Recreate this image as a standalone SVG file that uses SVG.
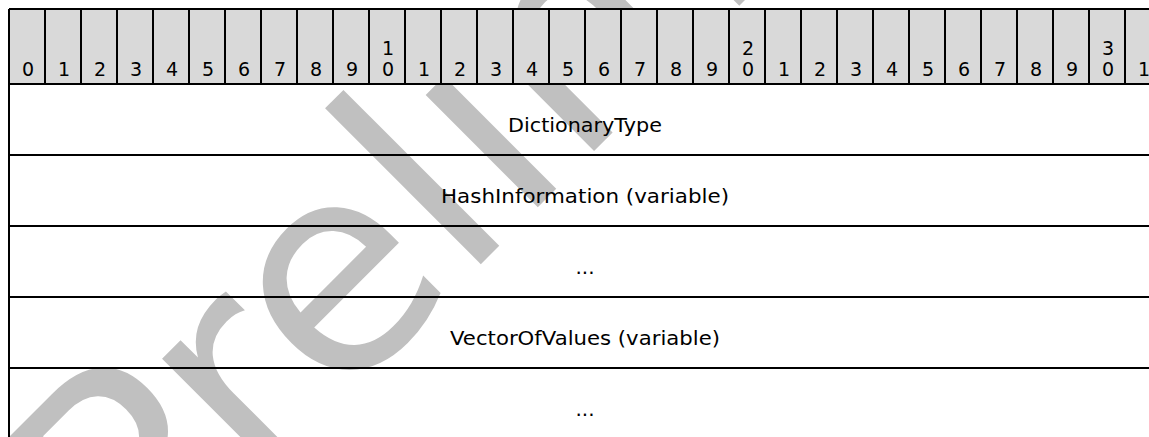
<svg xmlns="http://www.w3.org/2000/svg" width="1149" height="437" viewBox="0 0 1149 437">
<style>
.t{font-family:"DejaVu Sans","Verdana",sans-serif;font-size:20px;fill:#000;text-anchor:middle}
.d{font-family:"DejaVu Sans","Verdana",sans-serif;font-size:19px;fill:#000;text-anchor:middle}
.ln{stroke:#000;stroke-width:2;fill:none}
.wm{font-family:"DejaVu Sans",sans-serif;font-size:290px;fill:#c0c0c0}
</style>
<rect x="0" y="0" width="1149" height="437" fill="#fff"/>
<text class="wm" x="135.5" y="609.5" transform="rotate(-45 135.5 609.5)">Preliminary</text>
<g id="header">
<rect x="9" y="9" width="1152" height="75" fill="#d9d9d9"/>
<path class="ln" d="M9 9H1149M9 84H1149M9 9V437M45 9V84M81 9V84M117 9V84M153 9V84M189 9V84M225 9V84M261 9V84M297 9V84M333 9V84M369 9V84M405 9V84M441 9V84M477 9V84M513 9V84M549 9V84M585 9V84M621 9V84M657 9V84M693 9V84M729 9V84M765 9V84M801 9V84M837 9V84M873 9V84M909 9V84M945 9V84M981 9V84M1017 9V84M1053 9V84M1089 9V84M1125 9V84"/>
<text class="d" y="76"><tspan x="28">0</tspan><tspan x="64">1</tspan><tspan x="100">2</tspan><tspan x="136">3</tspan><tspan x="172">4</tspan><tspan x="208">5</tspan><tspan x="244">6</tspan><tspan x="280">7</tspan><tspan x="316">8</tspan><tspan x="352">9</tspan><tspan x="388">0</tspan><tspan x="424">1</tspan><tspan x="460">2</tspan><tspan x="496">3</tspan><tspan x="532">4</tspan><tspan x="568">5</tspan><tspan x="604">6</tspan><tspan x="640">7</tspan><tspan x="676">8</tspan><tspan x="712">9</tspan><tspan x="748">0</tspan><tspan x="784">1</tspan><tspan x="820">2</tspan><tspan x="856">3</tspan><tspan x="892">4</tspan><tspan x="928">5</tspan><tspan x="964">6</tspan><tspan x="1000">7</tspan><tspan x="1036">8</tspan><tspan x="1072">9</tspan><tspan x="1108">0</tspan><tspan x="1144">1</tspan></text>
<text class="d" y="55"><tspan x="388">1</tspan><tspan x="748">2</tspan><tspan x="1108">3</tspan></text>
</g>
<g id="connectors">
<path class="ln" d="M9 155H1149M9 226H1149M9 297H1149M9 368H1149"/>
</g>
<g id="field-dictionarytype"><text class="t" x="585" y="132" textLength="154" lengthAdjust="spacingAndGlyphs">DictionaryType</text></g>
<g id="field-hashinformation"><text class="t" x="585" y="203" textLength="288" lengthAdjust="spacingAndGlyphs">HashInformation (variable)</text></g>
<g id="field-ellipsis-1"><text class="t" x="585" y="274">...</text></g>
<g id="field-vectorofvalues"><text class="t" x="585" y="345" textLength="270" lengthAdjust="spacingAndGlyphs">VectorOfValues (variable)</text></g>
<g id="field-ellipsis-2"><text class="t" x="585" y="416">...</text></g>
</svg>
